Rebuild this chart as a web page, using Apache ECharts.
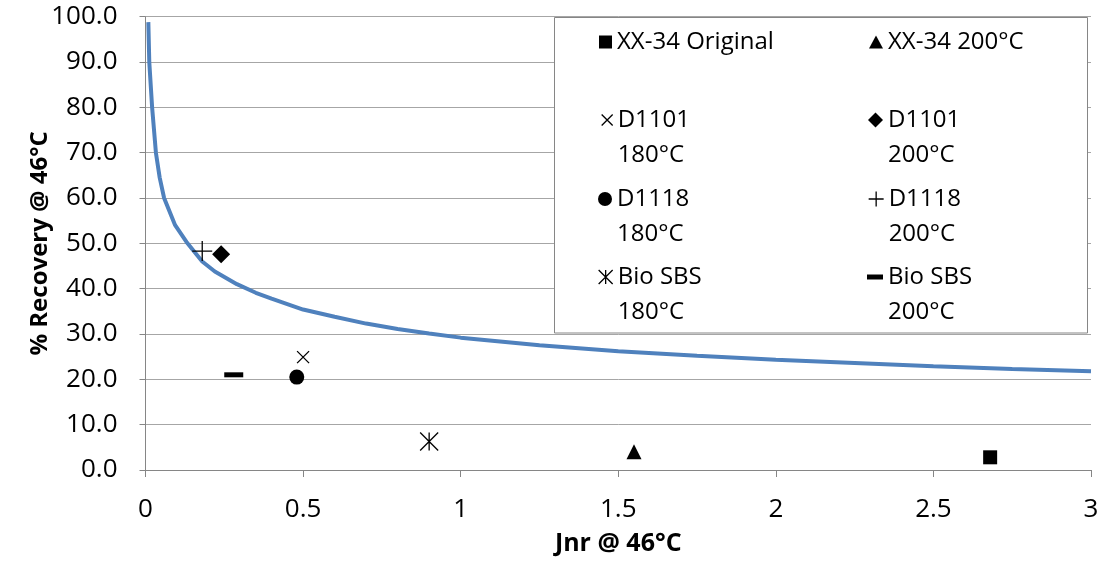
<!DOCTYPE html>
<html><head><meta charset="utf-8">
<script src="https://cdn.jsdelivr.net/npm/echarts@6/dist/echarts.min.js"></script>
<style>html,body{margin:0;padding:0;background:#fff}#c{width:1102px;height:561px}</style>
</head><body><div id="c"></div>
<script>
// Fitted curve
const curveX = [0.009, 0.012, 0.021, 0.033, 0.045, 0.059, 0.094, 0.13, 0.18, 0.22, 0.29, 0.35, 0.4, 0.5, 0.6, 0.7, 0.8, 0.9, 1.0, 1.25, 1.5, 1.75, 2.0, 2.25, 2.5, 2.75, 3.0];
const curveY = [98.8, 90, 80, 70, 64.5, 60, 54, 50.3, 46, 43.8, 41, 39.1, 37.8, 35.4, 33.8, 32.3, 31.1, 30.1, 29.2, 27.5, 26.2, 25.2, 24.3, 23.6, 22.9, 22.3, 21.8];
// Sample points
const sampleNames = ['XX-34 Original', 'XX-34 200°C', 'D1101\n180°C', 'D1101\n200°C', 'D1118\n180°C', 'D1118\n200°C', 'Bio SBS\n180°C', 'Bio SBS\n200°C'];
const sampleX = [2.68, 1.55, 0.50, 0.24, 0.48, 0.18, 0.90, 0.28];
const sampleY = [2.8, 4.0, 24.9, 47.6, 20.5, 48.3, 6.3, 21.0];
const yTicks = [0, 10, 20, 30, 40, 50, 60, 70, 80, 90, 100];
const xTicks = [0, 0.5, 1, 1.5, 2, 2.5, 3];
const xTitle = 'Jnr @ 46°C';
const yTitle = '% Recovery @ 46°C';

const FONT = 'Open Sans';
const XPATH = 'path://M0,0L10,10M10,0L0,10';
const PLUSPATH = 'path://M10,0L10,20M0,10L20,10';
const ASTPATH = 'path://M0,0L20,20M20,0L0,20M10,0L10,20';

const symbols = ['rect', 'triangle', XPATH, 'diamond', 'circle', PLUSPATH, ASTPATH, 'rect'];
const sizes = [14, 15, 12, 18, 15, 20, 18, [19, 5]];
const stroked = [false, false, true, false, false, true, true, false];
const legendIconSize = [[13, 13], [14, 13], [11, 11], [15, 15], [14, 14], [15, 15], [14, 14], [16, 5]];
const legendCol = [0, 1, 0, 1, 0, 1, 0, 1];
const legendRowY = [42, 42, 120, 120, 199, 199, 277, 277];

const series = [{
  type: 'line', name: 'fit', data: curveX.map((x, i) => [x, curveY[i]]),
  showSymbol: false, smooth: false, lineStyle: { color: '#4F81BD', width: 4 }, z: 2, silent: true
}];
sampleNames.forEach((n, i) => {
  series.push({
    type: 'scatter', name: n, data: [[sampleX[i], sampleY[i]]],
    symbol: symbols[i], symbolSize: sizes[i], z: 5,
    itemStyle: stroked[i] ? { color: '#000', borderColor: '#000', borderWidth: 1.3, opacity: 1 } : { color: '#000', opacity: 1 }
  });
});

const legends = sampleNames.map((n, i) => {
  const iw = legendIconSize[i][0], ih = legendIconSize[i][1];
  const textStart = legendCol[i] === 0 ? 617 : 888;
  const twoLine = n.indexOf('\n') >= 0;
  return {
    show: true, selectedMode: false, orient: 'horizontal', padding: 0,
    left: textStart - 5 - iw,
    top: twoLine ? legendRowY[i] - 52.5 : legendRowY[i] - 17.5,
    itemWidth: iw, itemHeight: ih, itemGap: 0,
    data: [{ name: n, icon: symbols[i] }],
    formatter: name => (name.indexOf('\n') >= 0 ? '\u00a0\n' + name : name),
    itemStyle: stroked[i] ? { color: '#000', borderColor: '#000', borderWidth: 1.3, opacity: 1 } : { color: '#000', borderWidth: 0, opacity: 1 },
    textStyle: { fontFamily: FONT, fontSize: 24, color: '#000', lineHeight: 35 }
  };
});

const chart = echarts.init(document.getElementById('c'), null, { renderer: 'canvas' });
chart.setOption({
  animation: false,
  backgroundColor: '#fff',
  grid: { left: 145.5, right: 11, top: 16.7, bottom: 89.5, containLabel: false },
  xAxis: {
    type: 'value', min: 0, max: 3, interval: 0.5,
    name: xTitle, nameLocation: 'middle', nameGap: 61,
    nameTextStyle: { fontFamily: FONT, fontSize: 25, fontWeight: 'bold', color: '#000' },
    axisLine: { show: true, onZero: false, lineStyle: { color: '#868686', width: 1 } },
    axisTick: { show: true, length: 7, lineStyle: { color: '#868686' } },
    axisLabel: { fontFamily: FONT, fontSize: 26, color: '#000', margin: 27, formatter: v => xTicks.indexOf(v) >= 0 ? String(v) : '' },
    splitLine: { show: false }
  },
  yAxis: {
    type: 'value', min: 0, max: 100, interval: 10,
    name: yTitle, nameLocation: 'middle', nameGap: 93, nameMoveOverlap: false,
    nameTextStyle: { fontFamily: FONT, fontSize: 24, fontWeight: 'bold', color: '#000' },
    axisLine: { show: true, lineStyle: { color: '#868686', width: 1 } },
    axisTick: { show: true, length: 6, lineStyle: { color: '#868686' } },
    axisLabel: { fontFamily: FONT, fontSize: 26, color: '#000', margin: 28, formatter: v => yTicks.indexOf(v) >= 0 ? v.toFixed(1) : '' },
    splitLine: { show: true, lineStyle: { color: '#A6A6A6', width: 1 } }
  },
  legend: legends,
  graphic: [{
    type: 'rect', z: 3,
    shape: { x: 554.5, y: 17.5, width: 533, height: 315.5 },
    style: { fill: '#fff', stroke: '#868686', lineWidth: 1 }
  }],
  series: series
});
</script>
</body></html>
